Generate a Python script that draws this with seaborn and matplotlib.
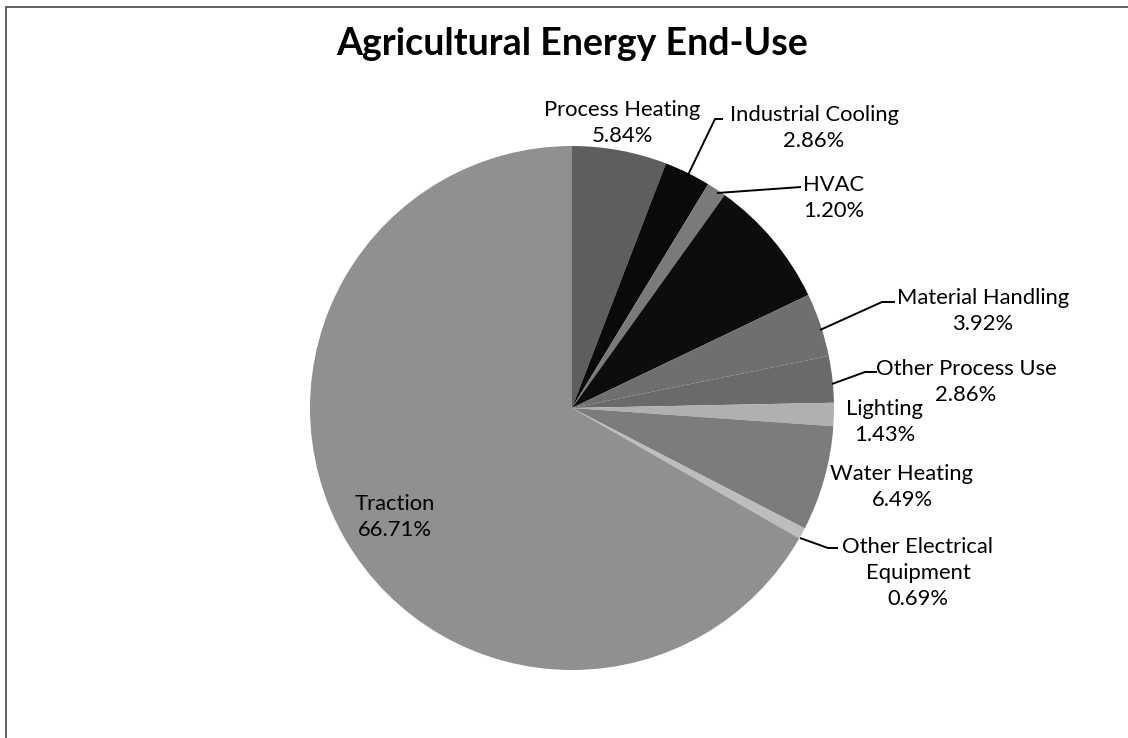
import matplotlib
matplotlib.use("Agg")
import matplotlib.pyplot as plt
import seaborn as sns
import pandas as pd

categories = ["Process Heating", "Industrial Cooling", "HVAC", "", "Material Handling",
              "Other Process Use", "Lighting", "Water Heating",
              "Other Electrical\nEquipment", "Traction"]
values = [5.84, 2.86, 1.20, 8.00, 3.92, 2.86, 1.43, 6.49, 0.69, 66.71]
pct_labels = ["5.84%", "2.86%", "1.20%", "", "3.92%", "2.86%", "1.43%", "6.49%", "0.69%", "66.71%"]
title = "Agricultural Energy End-Use"

df = pd.DataFrame({"category": categories, "value": values, "pct": pct_labels})

sns.set_theme(style="white")
plt.rcParams['font.family'] = ['Lato', 'DejaVu Sans']

colors = ["#5e5e5e", "#0a0a0a", "#7a7a7a", "#0d0d0d", "#6f6f6f",
          "#6a6a6a", "#b0b0b0", "#7c7c7c", "#bdbdbd", "#909090"]

W, H = 1128, 738
fig = plt.figure(figsize=(W / 100, H / 100), dpi=100)
fig.patch.set_facecolor("white")
ax = fig.add_axes([0, 0, 1, 1])

cx, cy, r = 572, 408, 262
# y axis inverted -> counterclock=True renders clockwise on screen
ax.pie(df["value"], colors=colors, startangle=-90, counterclock=True,
       center=(cx, cy), radius=r, frame=True,
       wedgeprops=dict(linewidth=0))
ax.set_xlim(0, W)
ax.set_ylim(H, 0)
ax.set_aspect("equal")
ax.axis("off")

fs = 15.8
lab_pos = {
    0: (622, 123),
    1: (814, 128),
    2: (834, 198),
    4: (983, 311),
    5: (966, 382),
    6: (885, 422),
    7: (902, 487),
    8: (918, 573),
    9: (395, 517),
}
for i, (x, y) in lab_pos.items():
    txt = df["category"][i] + "\n" + df["pct"][i]
    ax.text(x, y, txt, ha="center", va="center", fontsize=fs, color="black",
            linespacing=1.38)

leaders = [
    [(688, 175), (715, 119), (723, 119)],
    [(717, 193), (801, 187)],
    [(820, 330), (882, 302), (895, 302)],
    [(832, 384), (865, 372), (877, 372)],
    [(800, 538), (828, 548), (838, 548)],
]
for pts in leaders:
    xs, ys = zip(*pts)
    ax.plot(xs, ys, color="black", lw=1.4, solid_capstyle="butt")

ax.text(572, 44, title, ha="center", va="center", fontsize=27, fontweight="bold",
        color="black")

ax.plot([6, 6], [7, H], color="#555555", lw=1.3)
ax.plot([6, W], [7, 7], color="#555555", lw=1.3)

fig.savefig("out.png", dpi=100, facecolor="white")
